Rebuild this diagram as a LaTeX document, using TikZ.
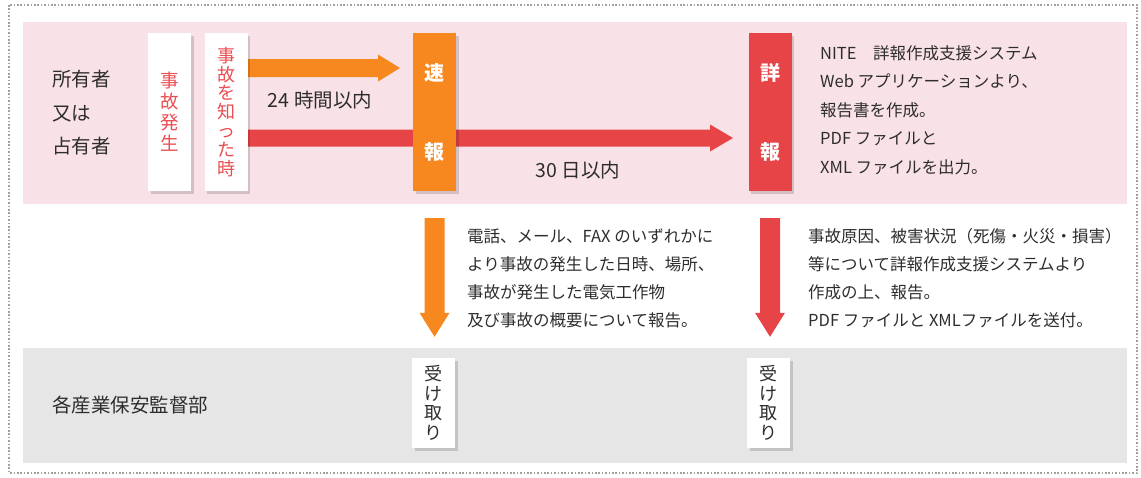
\documentclass[tikz,border=0pt]{standalone}
\usepackage{fontspec}
\setmainfont{Noto Sans CJK JP}
\usetikzlibrary{shadows,calc}
\definecolor{pinkband}{RGB}{249,226,231}
\definecolor{grayband}{RGB}{229,230,229}
\definecolor{orangec}{RGB}{246,136,31}
\definecolor{redc}{RGB}{231,68,72}
\definecolor{redtext}{RGB}{234,78,82}
\definecolor{textc}{RGB}{45,45,45}
\definecolor{dotc}{RGB}{160,160,160}
\pgfdeclarelayer{back}
\pgfdeclarelayer{mid}
\pgfsetlayers{back,mid,main}
\begin{document}
\begin{tikzpicture}[x=1pt,y=-1pt,
  every node/.style={inner sep=0pt,text=textc},
  softshadow/.style={drop shadow={shadow xshift=2.5pt,shadow yshift=-2.5pt,opacity=0.15,fill=black}},
  whitebox/.style={fill=white,minimum width=43pt,minimum height=158pt,softshadow,
    text=redtext,align=center,font=\fontsize{18.5}{21}\selectfont},
  colbox/.style={fill=#1,minimum width=43pt,minimum height=158pt,softshadow,
    text=white,align=center,font=\bfseries\fontsize{20}{21}\selectfont},
  recvbox/.style={fill=white,minimum width=43pt,minimum height=90pt,softshadow,
    text=textc,align=center,font=\fontsize{18}{19.5}\selectfont},
  bigtext/.style={anchor=west,align=left,font=\fontsize{19.5}{33.5}\selectfont},
  smalltext/.style={anchor=west,align=left,font=\fontsize{16.5}{28.5}\selectfont},
  durtext/.style={font=\fontsize{19.5}{21}\selectfont}]
\useasboundingbox (0,0) rectangle (1141,477);
\draw[dotc,line width=1.6pt,dash pattern=on 1.6pt off 1.8pt] (9,5) rectangle (1137,473);
\begin{pgfonlayer}{back}
  \fill[pinkband] (23,22) rectangle (1127,204);
  \fill[grayband] (23,348) rectangle (1127,463);
\end{pgfonlayer}

% owner side
\node[bigtext] (owner) at (52,113) {所有者\\又は\\占有者};
\node[whitebox] (hassei) at (169.5,112) {事\\故\\発\\生};
\node[whitebox,font=\fontsize{18}{18.9}\selectfont] (shitta) at (226,112) {事\\故\\を\\知\\っ\\た\\時};
\node[colbox=orangec] (sokuhou) at (434.5,112) {速\\[58pt]報};
\node[colbox=redc] (shouhou) at (770,112) {詳\\[58pt]報};

\coordinate (otip) at (400,68);
\coordinate (rtip) at (733,138);
\begin{pgfonlayer}{mid}
  \fill[redc] let \p1=(shitta.east |- rtip), \p2=(rtip) in
    (\x1,\y1+8.5pt) -- (\x2-23pt,\y1+8.5pt) -- (\x2-23pt,\y1+13.5pt) -- (\x2,\y2)
    -- (\x2-23pt,\y1-13.5pt) -- (\x2-23pt,\y1-8.5pt) -- (\x1,\y1-8.5pt) -- cycle;
  \fill[orangec] let \p1=(shitta.east |- otip), \p2=(otip) in
    (\x1,\y1+9pt) -- (\x2-22pt,\y1+9pt) -- (\x2-22pt,\y1+13.5pt) -- (\x2,\y2)
    -- (\x2-22pt,\y1-13.5pt) -- (\x2-22pt,\y1-9pt) -- (\x1,\y1-9pt) -- cycle;
\end{pgfonlayer}

\node[durtext] (h24) at (320,100) {24 時間以内};
\node[durtext] (d30) at (578,170) {30 日以内};

\node[smalltext] (nite) at (820,110) {NITE　詳報作成支援システム\\Web アプリケーションより、\\報告書を作成。\\PDF ファイルと\\XML ファイルを出力。};

% authority side
\node[bigtext] (kantoku) at (52,405) {各産業保安監督部};
\node[recvbox] (recv1) at (433.5,403) {受\\け\\取\\り};
\node[recvbox] (recv2) at (768.5,403) {受\\け\\取\\り};

\fill[orangec] let \p1=(sokuhou.south), \p2=(recv1.north) in
  (\x1-10pt,\y1-27pt) -- (\x1+10pt,\y1-27pt) -- (\x1+10pt,\y2+45pt) -- (\x1+15pt,\y2+45pt)
  -- (\x1,\y2+21pt) -- (\x1-15pt,\y2+45pt) -- (\x1-10pt,\y2+45pt) -- cycle;
\fill[redc] let \p1=(shouhou.south), \p2=(recv2.north) in
  (\x1-10pt,\y1-27pt) -- (\x1+10pt,\y1-27pt) -- (\x1+10pt,\y2+45pt) -- (\x1+15pt,\y2+45pt)
  -- (\x1,\y2+21pt) -- (\x1-15pt,\y2+45pt) -- (\x1-10pt,\y2+45pt) -- cycle;

\node[smalltext,font=\fontsize{16.5}{28}\selectfont] (sokutext) at (467,278)
  {電話、メール、FAX のいずれかに\\より事故の発生した日時、場所、\\事故が発生した電気工作物\\及び事故の概要について報告。};
\node[smalltext,font=\fontsize{16.5}{28}\selectfont] (shoutext) at (808,278)
  {事故原因、被害状況（死傷・火災・損害）\\等について詳報作成支援システムより\\作成の上、報告。\\PDF ファイルと XMLファイルを送付。};
\end{tikzpicture}
\end{document}
